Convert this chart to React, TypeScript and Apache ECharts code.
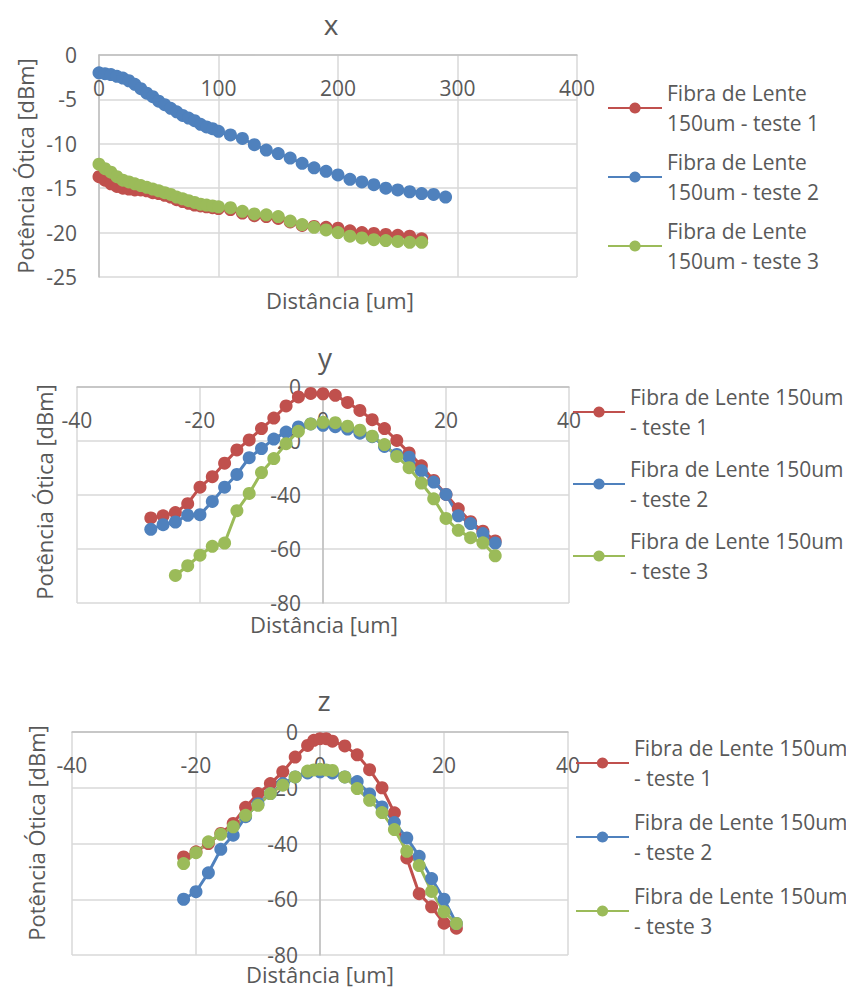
import React, { useEffect, useRef } from "react";
import * as echarts from "echarts";

const FONT = "'Open Sans', 'Liberation Sans', sans-serif";
const GRAY = "#595959";
const COLORS = ["#C0504D", "#4F81BD", "#9BBB59"];
const NAMES = [
  "Fibra de Lente 150um - teste 1",
  "Fibra de Lente 150um - teste 2",
  "Fibra de Lente 150um - teste 3",
];
const TITLES = ["x", "y", "z"];
const X_AXIS_NAME = "Distância [um]";
const Y_AXIS_NAME = "Potência Ótica [dBm]";

// ---- chart x ----
const xDistBlue = [0, 5, 10, 15, 20, 25, 30, 35, 40, 45, 50, 55, 60, 65, 70, 75, 80, 85, 90, 95, 100, 110, 120, 130, 140, 150, 160, 170, 180, 190, 200, 210, 220, 230, 240, 250, 260, 270, 280, 290];
const xBlue = [-2.0, -2.1, -2.2, -2.4, -2.6, -2.9, -3.3, -3.8, -4.3, -4.7, -5.2, -5.6, -6.0, -6.4, -6.8, -7.1, -7.4, -7.8, -8.1, -8.3, -8.6, -9.0, -9.4, -10.1, -10.7, -11.1, -11.6, -12.2, -12.7, -13.1, -13.5, -14.0, -14.3, -14.6, -15.0, -15.2, -15.4, -15.6, -15.7, -16.0];
const xDistRG = [0, 5, 10, 15, 20, 25, 30, 35, 40, 45, 50, 55, 60, 65, 70, 75, 80, 85, 90, 95, 100, 110, 120, 130, 140, 150, 160, 170, 180, 190, 200, 210, 220, 230, 240, 250, 260, 270];
const xRed = [-13.7, -14.1, -14.5, -14.8, -15.0, -15.1, -15.2, -15.2, -15.3, -15.5, -15.6, -15.8, -16.0, -16.3, -16.5, -16.7, -16.9, -17.0, -17.1, -17.2, -17.3, -17.4, -17.8, -18.1, -18.2, -18.4, -18.8, -19.2, -19.3, -19.4, -19.5, -19.8, -20.0, -20.1, -20.2, -20.3, -20.4, -20.7];
const xGreen = [-12.3, -12.8, -13.2, -13.7, -14.1, -14.3, -14.5, -14.7, -14.9, -15.1, -15.3, -15.5, -15.7, -16.0, -16.2, -16.4, -16.6, -16.8, -16.9, -17.0, -17.1, -17.2, -17.6, -17.9, -18.0, -18.2, -18.7, -19.1, -19.4, -19.7, -20.0, -20.4, -20.6, -20.8, -20.9, -21.0, -21.1, -21.1];

// ---- chart y ----
const yDistRB = [-28, -26, -24, -22, -20, -18, -16, -14, -12, -10, -8, -6, -4, -2, 0, 2, 4, 6, 8, 10, 12, 14, 16, 18, 20, 22, 24, 26, 28];
const yRed = [-48.5, -47.7, -46.5, -43.2, -37.1, -33.2, -28.2, -23.3, -19.6, -15.4, -11.5, -7.0, -3.7, -2.4, -2.5, -3.1, -5.7, -8.7, -12.1, -15.4, -19.8, -24.4, -29.2, -34.6, -39.8, -45.1, -49.9, -53.4, -57.0];
const yBlue = [-52.7, -51.0, -50.0, -47.5, -47.3, -42.4, -37.1, -32.4, -26.2, -22.8, -19.3, -16.7, -14.8, -13.7, -14.2, -14.7, -15.6, -17.1, -18.4, -22.0, -25.0, -26.0, -31.0, -35.2, -39.8, -47.7, -50.6, -54.3, -57.8];
const yDistG = [-24, -22, -20, -18, -16, -14, -12, -10, -8, -6, -4, -2, 0, 2, 4, 6, 8, 10, 12, 14, 16, 18, 20, 22, 24, 26, 28];
const yGreen = [-69.8, -66.2, -62.3, -59.0, -57.8, -45.8, -39.4, -31.7, -26.5, -21.0, -16.4, -13.7, -13.1, -13.2, -14.5, -16.0, -18.2, -21.3, -25.7, -29.9, -35.6, -41.4, -48.7, -53.1, -55.8, -57.7, -62.5];

// ---- chart z ----
const zDistRG = [-22, -20, -18, -16, -14, -12, -10, -8, -6, -4, -2, -1, 0, 1, 2, 4, 6, 8, 10, 12, 14, 16, 18, 20, 22];
const zRed = [-44.8, -43.0, -40.0, -36.4, -32.8, -27.0, -22.1, -18.5, -14.3, -9.0, -4.8, -3.0, -2.4, -2.4, -3.3, -5.0, -8.2, -13.5, -20.0, -29.0, -45.2, -58.0, -62.7, -68.6, -70.4];
const zGreen = [-47.2, -43.3, -39.4, -36.7, -34.0, -29.9, -26.3, -22.1, -19.1, -16.1, -14.0, -13.6, -13.4, -13.6, -13.8, -16.1, -20.3, -24.5, -28.9, -35.0, -42.8, -47.9, -57.2, -64.5, -68.7];
const zDistB = [-22, -20, -18, -16, -14, -12, -10, -8, -6, -4, -2, 0, 2, 4, 6, 8, 10, 12, 14, 16, 18, 20, 22];
const zBlue = [-60.0, -57.3, -50.5, -42.1, -37.0, -30.4, -25.7, -22.1, -18.5, -16.1, -14.7, -14.3, -14.7, -16.1, -17.8, -22.2, -26.9, -32.5, -38.0, -44.6, -52.6, -60.0, -68.7];

// axis ranges [min, max, interval]
const X_RANGES = [[0, 400, 100], [-40, 40, 20], [-40, 40, 20]];
const Y_RANGES = [[-25, 0, 5], [-80, 0, 20], [-80, 0, 20]];

const zip = (xs: number[], ys: number[]) => xs.map((x, i) => [x, ys[i]]);

export default function App() {
  const ref = useRef<HTMLDivElement>(null);
  useEffect(() => {
    if (!ref.current) return;
    const chart = echarts.init(ref.current, undefined, { renderer: "svg" });

    const grids = [
      { left: 99, top: 55, width: 478, height: 222 },
      { left: 77, top: 387, width: 492, height: 216 },
      { left: 72, top: 732, width: 496, height: 223 },
    ];
    // y-axis line crosses the x-axis at x = 0 (pixel offset from the grid's left edge, negative = inward)
    const yAxisOffsets = [0, -246, -248];

    const axisCommon = {
      type: "value" as const,
      axisLine: { onZero: false, lineStyle: { color: "#bfbfbf", width: 1.5 } },
      axisTick: { show: false },
      splitLine: { show: true, lineStyle: { color: "#d9d9d9", width: 1.5 } },
    };
    const labelCommon = { margin: 22, fontSize: 21, color: GRAY, fontFamily: FONT, showMinLabel: true, showMaxLabel: true };
    const xAxis = X_RANGES.map((r, i) => ({
      ...axisCommon,
      gridIndex: i,
      position: "top",
      min: r[0],
      max: r[1],
      interval: r[2],
      axisLabel: { ...labelCommon, inside: true },
    }));
    const yAxis = Y_RANGES.map((r, i) => ({
      ...axisCommon,
      gridIndex: i,
      position: "left",
      offset: yAxisOffsets[i],
      min: r[0],
      max: r[1],
      interval: r[2],
      axisLabel: { ...labelCommon },
    }));

    const seriesSets = [
      [zip(xDistRG, xRed), zip(xDistBlue, xBlue), zip(xDistRG, xGreen)],
      [zip(yDistRB, yRed), zip(yDistRB, yBlue), zip(yDistG, yGreen)],
      [zip(zDistRG, zRed), zip(zDistB, zBlue), zip(zDistRG, zGreen)],
    ];
    const series: any[] = [];
    seriesSets.forEach((set, gi) => {
      set.forEach((data, si) => {
        series.push({
          type: "line",
          name: NAMES[si],
          xAxisIndex: gi,
          yAxisIndex: gi,
          data,
          symbol: "circle",
          symbolSize: 13,
          color: COLORS[si],
          itemStyle: { color: COLORS[si] },
          lineStyle: { color: COLORS[si], width: 3 },
        });
      });
    });

    const legendText = { fontSize: 21, color: GRAY, fontFamily: FONT, lineHeight: 30, padding: [30, 0, 0, 0] };
    const legends = [
      { left: 607, top: 63, itemWidth: 54, itemGap: -21, formatter: (n: string) => n.replace(" 150um", "\n150um") },
      { left: 572, top: 367, itemWidth: 52, itemGap: -18, formatter: (n: string) => n.replace(" - teste", "\n- teste") },
      { left: 575, top: 718, itemWidth: 53, itemGap: -16, formatter: (n: string) => n.replace(" - teste", "\n- teste") },
    ].map((l) => ({
      ...l,
      orient: "vertical",
      padding: 0,
      itemHeight: 14,
      data: NAMES,
      textStyle: legendText,
    }));

    const titlePos = [[331, 10], [325, 343], [324, 686]];
    const title = TITLES.map((t, i) => ({
      text: t,
      left: titlePos[i][0],
      top: titlePos[i][1],
      textAlign: "center",
      padding: 0,
      textStyle: { fontSize: 28, fontWeight: "normal", color: GRAY, fontFamily: FONT },
    }));

    const xNamePos = [[340, 300], [324, 624], [320, 974]];
    const yNamePos = [[25, 166], [44, 492], [36, 833]];
    const graphic: any[] = [];
    xNamePos.forEach((p) =>
      graphic.push({
        type: "text",
        x: p[0],
        y: p[1],
        style: { text: X_AXIS_NAME, fill: GRAY, fontSize: 22, fontFamily: FONT, textAlign: "center", textVerticalAlign: "middle", align: "center", verticalAlign: "middle" },
      })
    );
    yNamePos.forEach((p) =>
      graphic.push({
        type: "text",
        x: p[0],
        y: p[1],
        rotation: Math.PI / 2,
        style: { text: Y_AXIS_NAME, fill: GRAY, fontSize: 22, fontFamily: FONT, textAlign: "center", textVerticalAlign: "middle", align: "center", verticalAlign: "middle" },
      })
    );

    chart.setOption({
      animation: false,
      backgroundColor: "#ffffff",
      title,
      grid: grids,
      xAxis,
      yAxis,
      legend: legends,
      series,
      graphic,
    });
    return () => chart.dispose();
  }, []);
  return (
    <div
      ref={ref}
      style={{ position: "absolute", left: 0, top: 0, width: 846, height: 987, background: "#fff" }}
    />
  );
}
